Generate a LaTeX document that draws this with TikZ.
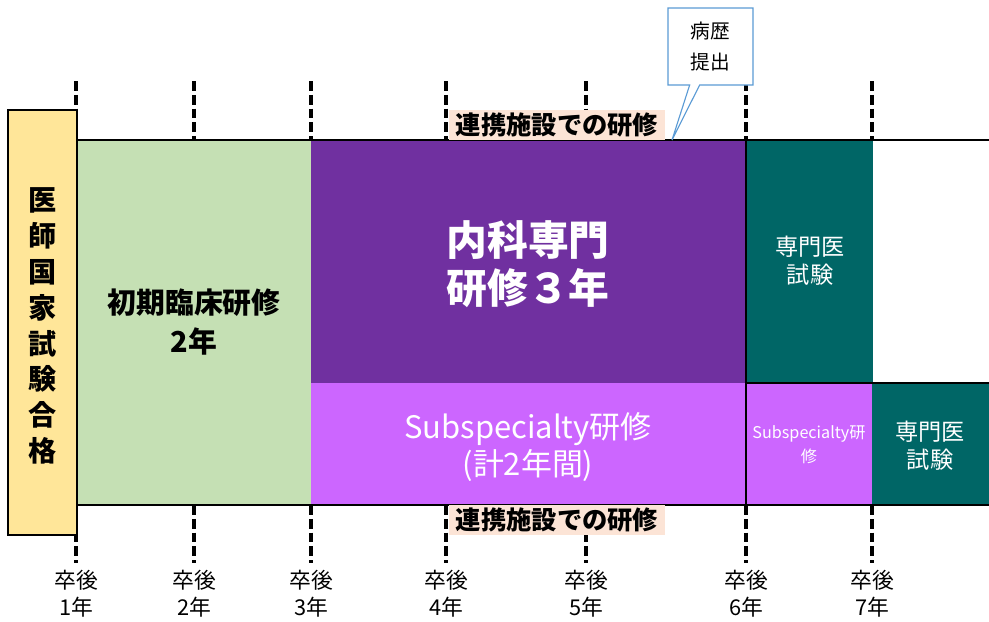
\documentclass[tikz,border=0pt]{standalone}
\usepackage{fontspec}
\setmainfont{Noto Sans CJK JP}
\usetikzlibrary{shapes.callouts}

\definecolor{goukaku}{HTML}{FFE699}
\definecolor{shoki}{HTML}{C5E0B4}
\definecolor{naika}{HTML}{7030A0}
\definecolor{subsp}{HTML}{CC66FF}
\definecolor{senmon}{HTML}{006666}
\definecolor{renkei}{HTML}{FCE4D6}
\definecolor{callblue}{HTML}{5B9BD5}

\begin{document}
\begin{tikzpicture}[x=0.025cm, y=-0.025cm,
  tick/.style={line width=2.8pt, dash pattern=on 7pt off 2.8pt},
  rim/.style={line width=1.4pt},
  boxtext/.style={align=center, text=white},
  renkeilabel/.style={fill=renkei, inner sep=0pt, minimum width=5.4cm, minimum height=0.75cm,
    font=\fontsize{18pt}{20pt}\selectfont\bfseries}]
  \useasboundingbox (0,0) rectangle (989,621);

  % year ticks and labels
  \foreach \x/\n in {76/1, 194/2, 311/3, 446/4, 586/5, 746/6, 872/7} {
    \draw[tick] (\x,81) -- (\x,140);
    \draw[tick] (\x,505) -- (\x,563);
    \node[align=center, font=\fontsize{15.5pt}{19pt}\selectfont] (sotsugo\n) at (\x,594) {卒後\\\n{}年};
  }

  % training blocks
  \fill[shoki] (77,140) rectangle (311,505);
  \fill[naika] (311,140) rectangle (746,383);
  \fill[subsp] (311,383) rectangle (746,505);
  \fill[senmon] (746,140) rectangle (873,383);
  \fill[subsp] (746,383) rectangle (872,505);
  \fill[senmon] (872,383) rectangle (989,505);
  \draw[rim] (77,140) -- (989,140);
  \draw[rim] (77,505) -- (989,505);
  \draw[rim] (746,140) -- (746,505);
  \draw[rim] (746,383) -- (989,383);
  \draw[rim, fill=goukaku] (8,110) rectangle (77,535);

  \node[align=center, font=\fontsize{20pt}{25.5pt}\selectfont\bfseries] (kokushi) at (42.5,326)
    {医\\師\\国\\家\\試\\験\\合\\格};
  \node[align=center, font=\fontsize{20.5pt}{27.6pt}\selectfont\bfseries] (shokiken) at (194,322)
    {初期臨床研修\\2年};
  \node[boxtext, font=\fontsize{29pt}{34pt}\selectfont\bfseries] (naikaken) at (528,264)
    {内科専門\\研修３年};
  \node[boxtext, font=\fontsize{22pt}{27pt}\selectfont] (subspken) at (528,447)
    {Subspecialty研修\\(計2年間)};
  \node[boxtext, font=\fontsize{16.5pt}{20pt}\selectfont] (shiken1) at (810,261)
    {専門医\\試験};
  \node[boxtext, font=\fontsize{11.5pt}{17pt}\selectfont] (subspken2) at (809,445)
    {Subspecialty研\\修};
  \node[boxtext, font=\fontsize{16.5pt}{20pt}\selectfont] (shiken2) at (930,446)
    {専門医\\試験};

  \node[renkeilabel] (renkeiue) at (557,125) {連携施設での研修};
  \node[renkeilabel] (renkeishita) at (557,520) {連携施設での研修};

  \node[rectangle callout, draw=callblue, fill=white, line width=0.8pt,
    minimum width=2.125cm, minimum height=1.925cm, align=center,
    callout absolute pointer={(672,140)},
    font=\fontsize{14pt}{21.5pt}\selectfont] (byoreki) at (710.5,46.5) {病歴\\提出};
\end{tikzpicture}
\end{document}
